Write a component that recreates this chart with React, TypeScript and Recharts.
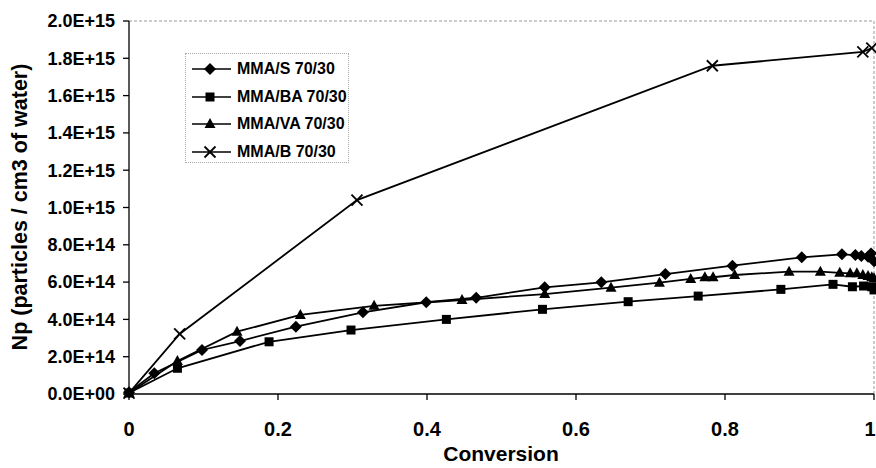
import React from "react";
import { LineChart, Line, XAxis, YAxis, ReferenceLine, Label } from "recharts";

// conversion (x) and particle number Np (particles / cm3 of water)
const convS = [0, 0.034, 0.098, 0.149, 0.224, 0.314, 0.399, 0.466, 0.558, 0.634, 0.72, 0.81, 0.903, 0.957, 0.975, 0.983, 0.992, 0.996, 1.0];
const npS = [0.1e14, 1.11e14, 2.36e14, 2.84e14, 3.61e14, 4.38e14, 4.92e14, 5.16e14, 5.72e14, 5.99e14, 6.43e14, 6.88e14, 7.33e14, 7.49e14, 7.45e14, 7.4e14, 7.36e14, 7.54e14, 7.12e14];

const convBA = [0, 0.065, 0.188, 0.298, 0.426, 0.555, 0.67, 0.764, 0.875, 0.945, 0.971, 0.986, 0.997, 1.0];
const npBA = [0.05e14, 1.38e14, 2.8e14, 3.43e14, 4.0e14, 4.54e14, 4.95e14, 5.25e14, 5.61e14, 5.88e14, 5.75e14, 5.79e14, 5.75e14, 5.58e14];

const convVA = [0, 0.065, 0.145, 0.23, 0.329, 0.447, 0.558, 0.647, 0.712, 0.754, 0.773, 0.784, 0.813, 0.886, 0.928, 0.954, 0.968, 0.977, 0.985, 0.992, 0.997, 1.0];
const npVA = [0.05e14, 1.77e14, 3.34e14, 4.24e14, 4.73e14, 5.04e14, 5.36e14, 5.7e14, 5.97e14, 6.17e14, 6.26e14, 6.26e14, 6.38e14, 6.56e14, 6.56e14, 6.5e14, 6.47e14, 6.47e14, 6.38e14, 6.33e14, 6.26e14, 6.2e14];

const convB = [0, 0.068, 0.306, 0.783, 0.985, 0.997];
const npB = [0.05e14, 3.22e14, 10.4e14, 17.6e14, 18.34e14, 18.55e14];

const xTicks = [0, 0.2, 0.4, 0.6, 0.8, 1];
const yTicks = [0, 2e14, 4e14, 6e14, 8e14, 1e15, 1.2e15, 1.4e15, 1.6e15, 1.8e15, 2e15];

const seriesNames = ["MMA/S 70/30", "MMA/BA 70/30", "MMA/VA 70/30", "MMA/B 70/30"];
const seriesShapes = ["diamond", "square", "triangle", "x"];

const FONT = "'Liberation Sans', Arial, sans-serif";

const toPoints = (xs: number[], ys: number[]) => xs.map((x, i) => ({ x, y: ys[i] }));

const sciFormat = (v: number) => {
  if (v === 0) return "0.0E+00";
  const exp = Math.floor(Math.log10(v) + 1e-9);
  const mant = v / Math.pow(10, exp);
  return `${mant.toFixed(1)}E+${String(exp).padStart(2, "0")}`;
};

function Marker({ cx, cy, shape }: { cx: number; cy: number; shape: string }) {
  if (cx == null || cy == null) return null;
  if (shape === "diamond") {
    const r = 6;
    return <polygon points={`${cx},${cy - r} ${cx + r},${cy} ${cx},${cy + r} ${cx - r},${cy}`} fill="#000" />;
  }
  if (shape === "square") {
    return <rect x={cx - 4.5} y={cy - 4.5} width={9} height={9} fill="#000" />;
  }
  if (shape === "triangle") {
    return <polygon points={`${cx},${cy - 6} ${cx + 5.5},${cy + 4} ${cx - 5.5},${cy + 4}`} fill="#000" />;
  }
  const r = 5.5;
  return (
    <g stroke="#000" strokeWidth={1.8}>
      <line x1={cx - r} y1={cy - r} x2={cx + r} y2={cy + r} />
      <line x1={cx - r} y1={cy + r} x2={cx + r} y2={cy - r} />
    </g>
  );
}

const renderDot = (shape: string) => (props: any) => (
  <Marker key={`${shape}-${props.index}`} cx={props.cx} cy={props.cy} shape={shape} />
);

// keep the last tick label ("1") inside the picture, as in the original
function XTick(props: any) {
  const { x, y, payload } = props;
  const tx = Math.min(x, 870);
  return (
    <text x={tx} y={y} dy="0.71em" textAnchor="middle" fill="#000" fontSize={20} fontWeight="bold" fontFamily={FONT}>
      {String(payload.value)}
    </text>
  );
}

function LegendBox() {
  return (
    <div
      style={{
        position: "absolute",
        left: 185,
        top: 53,
        width: 164,
        height: 110,
        border: "1px dotted #aaa",
        boxSizing: "border-box",
        fontFamily: FONT,
        fontWeight: "bold",
        fontSize: 16,
      }}
    >
      {seriesNames.map((name, i) => (
        <div
          key={name}
          style={{ position: "absolute", left: 5, top: 5 + i * 27.5, height: 20, display: "flex", alignItems: "center" }}
        >
          <svg width={42} height={20}>
            <line x1={1} y1={10} x2={40} y2={10} stroke="#000" strokeWidth={1.6} />
            <Marker cx={19} cy={10} shape={seriesShapes[i]} />
          </svg>
          <span style={{ marginLeft: 4, whiteSpace: "nowrap" }}>{name}</span>
        </div>
      ))}
    </div>
  );
}

export default function App() {
  const sData = toPoints(convS, npS);
  const baData = toPoints(convBA, npBA);
  const vaData = toPoints(convVA, npVA);
  const bData = toPoints(convB, npB);

  return (
    <div style={{ position: "absolute", left: 0, top: 0, width: 876, height: 468, background: "#fff" }}>
      <LineChart width={876} height={468} margin={{ top: 21, right: 2, bottom: 0, left: 0 }}>
        <XAxis
          dataKey="x"
          type="number"
          domain={[0, 1]}
          ticks={xTicks}
          interval={0}
          height={74}
          stroke="#000"
          strokeWidth={1.3}
          tickSize={6}
          tickMargin={22}
          tick={<XTick />}
          allowDuplicatedCategory={false}
        >
          <Label
            content={() => (
              <text x={501} y={461} textAnchor="middle" fontFamily={FONT} fontWeight="bold" fontSize={21} fill="#000">
                Conversion
              </text>
            )}
          />
        </XAxis>
        <YAxis
          type="number"
          domain={[0, 2e15]}
          ticks={yTicks}
          interval={0}
          width={129}
          stroke="#000"
          strokeWidth={1.3}
          tickSize={6}
          tickMargin={8}
          tick={{ fill: "#000", fontSize: 18, fontWeight: "bold", fontFamily: FONT }}
          tickFormatter={sciFormat}
        >
          <Label
            content={() => (
              <text
                x={27}
                y={207}
                transform="rotate(-90, 27, 207)"
                textAnchor="middle"
                fontFamily={FONT}
                fontWeight="bold"
                fontSize={21.5}
                fill="#000"
              >
                Np (particles / cm3 of water)
              </text>
            )}
          />
        </YAxis>
        <ReferenceLine y={2e15} stroke="#999" strokeDasharray="3 2" />
        <ReferenceLine x={1} stroke="#999" strokeDasharray="3 2" />
        <Line data={bData} dataKey="y" type="linear" stroke="#000" strokeWidth={1.8} dot={renderDot("x")} isAnimationActive={false} />
        <Line data={baData} dataKey="y" type="linear" stroke="#000" strokeWidth={1.8} dot={renderDot("square")} isAnimationActive={false} />
        <Line data={vaData} dataKey="y" type="linear" stroke="#000" strokeWidth={1.8} dot={renderDot("triangle")} isAnimationActive={false} />
        <Line data={sData} dataKey="y" type="linear" stroke="#000" strokeWidth={1.8} dot={renderDot("diamond")} isAnimationActive={false} />
      </LineChart>
      <LegendBox />
    </div>
  );
}
